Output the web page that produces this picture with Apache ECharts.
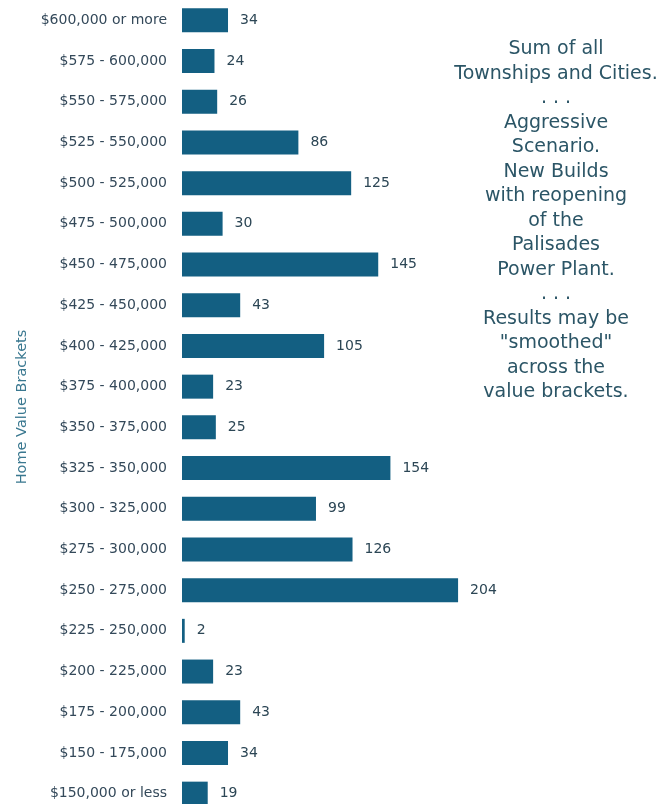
<!DOCTYPE html>
<html><head><meta charset="utf-8">
<script src="https://cdn.jsdelivr.net/npm/echarts@6/dist/echarts.min.js"></script>
<style>html,body{margin:0;padding:0;background:#fff}#c{width:666px;height:804px}</style>
</head><body><div id="c"></div>
<script>
const categories = ["$600,000 or more","$575 - 600,000","$550 - 575,000","$525 - 550,000","$500 - 525,000","$475 - 500,000","$450 - 475,000","$425 - 450,000","$400 - 425,000","$375 - 400,000","$350 - 375,000","$325 - 350,000","$300 - 325,000","$275 - 300,000","$250 - 275,000","$225 - 250,000","$200 - 225,000","$175 - 200,000","$150 - 175,000","$150,000 or less"];
const values = [34,24,26,86,125,30,145,43,105,23,25,154,99,126,204,2,23,43,34,19];
const axisName = "Home Value Brackets";
const noteLines = ["Sum of all","Townships and Cities.",". . .","Aggressive","Scenario.","New Builds","with reopening","of the","Palisades","Power Plant.",". . .","Results may be","\"smoothed\"","across the","value brackets."];

const FONT = "'DejaVu Sans', sans-serif";
const chart = echarts.init(document.getElementById('c'));
chart.setOption({
  animation:false,
  textStyle:{fontFamily:FONT},
  grid:{left:182, right:78, top:0, height:814, containLabel:false, outerBoundsMode:'none'},
  xAxis:{type:'value', min:0, max:300, show:false},
  yAxis:{type:'category', data:categories, inverse:true,
    axisLine:{show:false}, axisTick:{show:false},
    axisLabel:{color:'#34495a', fontSize:14, margin:15, fontFamily:FONT},
    name:axisName, nameLocation:'middle', nameGap:150, nameRotate:90,
    nameTextStyle:{color:'#3a7890', fontSize:14.5, fontFamily:FONT}},
  series:[{type:'bar', data:values, barWidth:24,
    itemStyle:{color:'#135f82'},
    label:{show:true, position:'right', distance:12, color:'#2c4655', fontSize:14, fontFamily:FONT}}],
  graphic:[{type:'text', x:556, y:37, style:{
    text:noteLines.join('\n'), align:'center', verticalAlign:'top',
    fill:'#2b5566', fontSize:19, lineHeight:24.5, fontFamily:FONT}}]
});
</script></body></html>
